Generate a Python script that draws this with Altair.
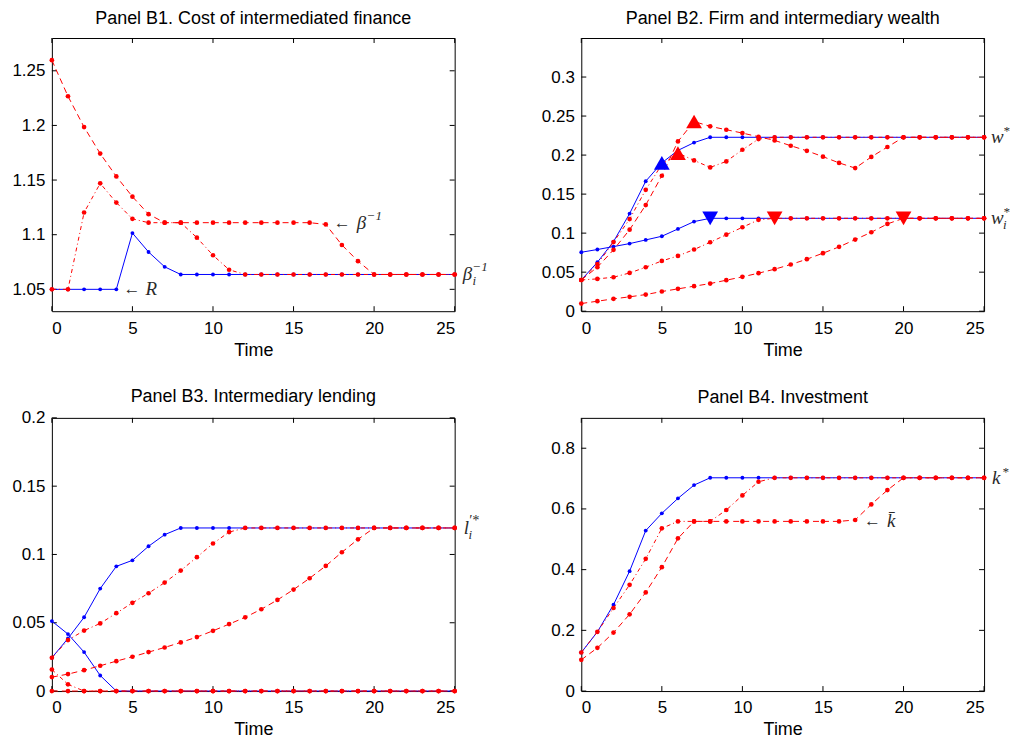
import altair as alt
import pandas as pd

# ---------------- data ----------------
TIME = [0, 1, 2, 3, 4, 5, 6, 7, 8, 9, 10, 11, 12, 13, 14, 15, 16, 17, 18, 19, 20, 21, 22, 23, 24, 25]
X_TICKS = [0, 5, 10, 15, 20, 25]

# Panel B1. Cost of intermediated finance
B1_TICKS = [1.05, 1.10, 1.15, 1.20, 1.25]
B1_BLUE = [1.050, 1.050, 1.050, 1.050, 1.050, 1.1015, 1.0842, 1.0706, 1.0636, 1.0636,
           1.0636, 1.0636, 1.0636, 1.0636, 1.0636, 1.0636, 1.0636, 1.0636, 1.0636, 1.0636,
           1.0636, 1.0636, 1.0636, 1.0636, 1.0636, 1.0636]
B1_MED = [1.050, 1.050, 1.1203, 1.1470, 1.1294, 1.1145, 1.1110, 1.1110, 1.1110, 1.0973,
          1.0812, 1.0679, 1.0636, 1.0636, 1.0636, 1.0636, 1.0636, 1.0636, 1.0636, 1.0636,
          1.0636, 1.0636, 1.0636, 1.0636, 1.0636, 1.0636]
B1_SLOW = [1.2597, 1.2267, 1.1985, 1.1742, 1.1533, 1.1348, 1.1188, 1.1110, 1.1110, 1.1110,
           1.1110, 1.1110, 1.1110, 1.1110, 1.1110, 1.1110, 1.1110, 1.1094, 1.0906, 1.0758,
           1.0636, 1.0636, 1.0636, 1.0636, 1.0636, 1.0636]

# Panel B2. Firm and intermediary wealth
B2_TICKS = [0, 0.05, 0.10, 0.15, 0.20, 0.25, 0.30]
B2_BLUE_W = [0.040, 0.0627, 0.0892, 0.125, 0.1665, 0.190, 0.206, 0.216, 0.2228, 0.2228,
             0.2228, 0.2228, 0.2228, 0.2228, 0.2228, 0.2228, 0.2228, 0.2228, 0.2228, 0.2228,
             0.2228, 0.2228, 0.2228, 0.2228, 0.2228, 0.2228]
B2_BLUE_WI = [0.0755, 0.079, 0.0828, 0.0866, 0.0913, 0.096, 0.1054, 0.1148, 0.119, 0.119,
              0.119, 0.119, 0.119, 0.119, 0.119, 0.119, 0.119, 0.119, 0.119, 0.119,
              0.119, 0.119, 0.119, 0.119, 0.119, 0.119]
B2_MED_W = [0.040, 0.0603, 0.0885, 0.118, 0.1555, 0.188, 0.2026, 0.1932, 0.1842, 0.1919,
            0.2068, 0.2205, 0.2228, 0.2228, 0.2228, 0.2228, 0.2228, 0.2228, 0.2228, 0.2228,
            0.2228, 0.2228, 0.2228, 0.2228, 0.2228, 0.2228]
B2_MED_WI = [0.040, 0.0414, 0.0435, 0.049, 0.0563, 0.0644, 0.0708, 0.079, 0.0883, 0.098,
             0.1075, 0.117, 0.119, 0.119, 0.119, 0.119, 0.119, 0.119, 0.119, 0.119,
             0.119, 0.119, 0.119, 0.119, 0.119, 0.119]
B2_SLOW_W = [0.040, 0.0564, 0.0786, 0.1044, 0.136, 0.1735, 0.2175, 0.243, 0.2368, 0.2325,
             0.2282, 0.2235, 0.2188, 0.212, 0.2055, 0.198, 0.190, 0.1833, 0.1976, 0.2104,
             0.2228, 0.2228, 0.2228, 0.2228, 0.2228, 0.2228]
B2_SLOW_WI = [0.0098, 0.0128, 0.0158, 0.0184, 0.0213, 0.0252, 0.0286, 0.032, 0.0354, 0.0397,
              0.044, 0.0487, 0.0538, 0.0598, 0.0666, 0.0743, 0.0824, 0.0918, 0.1011, 0.1118,
              0.119, 0.119, 0.119, 0.119, 0.119, 0.119]
B2_UP_T = [5, 6, 7]
B2_UP_V = [0.190, 0.2026, 0.243]
B2_DOWN_T = [8, 12, 20]
B2_DOWN_V = [0.119, 0.119, 0.119]

# Panel B3. Intermediary lending
B3_TICKS = [0, 0.05, 0.10, 0.15, 0.20]
B3_BLUE_UP = [0.0244, 0.0385, 0.054, 0.075, 0.0913, 0.0957, 0.106, 0.1145, 0.1194, 0.1194,
              0.1194, 0.1194, 0.1194, 0.1194, 0.1194, 0.1194, 0.1194, 0.1194, 0.1194, 0.1194,
              0.1194, 0.1194, 0.1194, 0.1194, 0.1194, 0.1194]
B3_BLUE_DN = [0.0512, 0.0417, 0.0285, 0.0114, 0, 0, 0, 0, 0, 0, 0, 0, 0, 0, 0, 0, 0, 0, 0, 0,
              0, 0, 0, 0, 0, 0]
B3_MED_UP = [0.0244, 0.0373, 0.0443, 0.0495, 0.057, 0.0646, 0.0716, 0.0794, 0.0882, 0.098,
             0.108, 0.1164, 0.1194, 0.1194, 0.1194, 0.1194, 0.1194, 0.1194, 0.1194, 0.1194,
             0.1194, 0.1194, 0.1194, 0.1194, 0.1194, 0.1194]
B3_MED_DN = [0.0158, 0.0049, 0, 0, 0, 0, 0, 0, 0, 0, 0, 0, 0, 0, 0, 0, 0, 0, 0, 0,
             0, 0, 0, 0, 0, 0]
B3_SLOW_UP = [0.0102, 0.0124, 0.0153, 0.0185, 0.0219, 0.0251, 0.0285, 0.0319, 0.0356, 0.0395,
              0.0441, 0.049, 0.054, 0.0599, 0.0667, 0.0743, 0.0826, 0.0916, 0.1016, 0.1111,
              0.1194, 0.1194, 0.1194, 0.1194, 0.1194, 0.1194]
B3_SLOW_DN = [0, 0, 0, 0, 0, 0, 0, 0, 0, 0, 0, 0, 0, 0, 0, 0, 0, 0, 0, 0,
              0, 0, 0, 0, 0, 0]

# Panel B4. Investment
B4_TICKS = [0, 0.2, 0.4, 0.6, 0.8]
B4_BLUE = [0.127, 0.195, 0.2845, 0.395, 0.5286, 0.5855, 0.6348, 0.6785, 0.7026, 0.7026,
           0.7026, 0.7026, 0.7026, 0.7026, 0.7026, 0.7026, 0.7026, 0.7026, 0.7026, 0.7026,
           0.7026, 0.7026, 0.7026, 0.7026, 0.7026, 0.7026]
B4_MED = [0.127, 0.195, 0.2736, 0.350, 0.4356, 0.536, 0.559, 0.559, 0.559, 0.5964,
          0.6446, 0.6895, 0.7026, 0.7026, 0.7026, 0.7026, 0.7026, 0.7026, 0.7026, 0.7026,
          0.7026, 0.7026, 0.7026, 0.7026, 0.7026, 0.7026]
B4_SLOW = [0.1029, 0.1423, 0.1926, 0.2528, 0.325, 0.408, 0.503, 0.559, 0.559, 0.559,
           0.559, 0.559, 0.559, 0.559, 0.559, 0.559, 0.559, 0.5636, 0.615, 0.662,
           0.7026, 0.7026, 0.7026, 0.7026, 0.7026, 0.7026]

# ---------------- styling ----------------
W, H = 404, 274
BLUE = "#0000ff"
RED = "#ff0000"
TXT = "#2a2a2a"
SANS = "Liberation Sans"
SERIF = "Liberation Serif"
DASH_SLOW = [6, 4]
DASH_MED = [4, 3, 1, 3]
RED_DOT = 22
BLUE_DOT = 15


def make_panel(title, ydomain, yticks, layers_fn, title_offset=10):
    X = alt.X("t:Q", scale=alt.Scale(domain=[0, 25], nice=False, zero=False),
              axis=alt.Axis(title="Time", values=X_TICKS, format="~g",
                            grid=False, ticks=False, domain=False,
                            labelFont=SANS, labelFontSize=17, labelColor="black",
                            labelPadding=9, titleFont=SANS, titleFontSize=18,
                            titleFontWeight="normal", titleColor="black", titlePadding=5))
    Y = alt.Y("v:Q", scale=alt.Scale(domain=ydomain, nice=False, zero=False),
              axis=alt.Axis(title=None, values=yticks, format="~g",
                            grid=False, ticks=False, domain=False,
                            labelFont=SANS, labelFontSize=17, labelColor="black",
                            labelPadding=7))

    def series(values, color, dash, msize):
        df = pd.DataFrame({"t": TIME, "v": values})
        base = alt.Chart(df).encode(x=X, y=Y)
        if dash:
            line = base.mark_line(color=color, strokeWidth=1, strokeDash=dash)
        else:
            line = base.mark_line(color=color, strokeWidth=1)
        pts = base.mark_circle(color=color, size=msize, opacity=1)
        return [line, pts]

    def tri(ts, vs, color, shape):
        df = pd.DataFrame({"t": ts, "v": vs})
        return alt.Chart(df).mark_point(shape=shape, filled=True, color=color,
                                        size=250, opacity=1).encode(x=X, y=Y)

    def label(t, v, text, dx=0, dy=0, size=19, italic=True):
        df = pd.DataFrame({"t": [t], "v": [v]})
        return alt.Chart(df).mark_text(
            text=text, align="left", baseline="middle", dx=dx, dy=dy,
            font=SERIF, fontSize=size, fontStyle="italic" if italic else "normal",
            color=TXT).encode(x=X, y=Y)

    ticks = [
        alt.Chart(pd.DataFrame({"t": X_TICKS})).mark_rule(color="black", strokeWidth=1)
        .encode(x=X, y=alt.value(H), y2=alt.value(H - 5)),
        alt.Chart(pd.DataFrame({"t": X_TICKS})).mark_rule(color="black", strokeWidth=1)
        .encode(x=X, y=alt.value(0), y2=alt.value(5)),
        alt.Chart(pd.DataFrame({"v": yticks})).mark_rule(color="black", strokeWidth=1)
        .encode(y=Y, x=alt.value(0), x2=alt.value(5)),
        alt.Chart(pd.DataFrame({"v": yticks})).mark_rule(color="black", strokeWidth=1)
        .encode(y=Y, x=alt.value(W), x2=alt.value(W - 5)),
    ]

    layers = ticks + layers_fn(series, tri, label)
    return alt.layer(*layers).properties(
        width=W, height=H,
        title=alt.TitleParams(title, font=SANS, fontSize=18, fontWeight="normal",
                              color="black", offset=title_offset))


def b1_layers(series, tri, label):
    L = []
    L += series(B1_BLUE, BLUE, None, BLUE_DOT)
    L += series(B1_MED, RED, DASH_MED, RED_DOT)
    L += series(B1_SLOW, RED, DASH_SLOW, RED_DOT)
    L += [
        label(4.45, 1.05, "\u2190", size=17, italic=False),
        label(4.45, 1.05, "R", dx=22),
        label(17.5, 1.111, "\u2190", size=17, italic=False),
        label(17.5, 1.111, "\u03b2", dx=23),
        label(17.5, 1.111, "\u22121", dx=33, dy=-7, size=13),
        label(25, 1.0636, "\u03b2", dx=8),
        label(25, 1.0636, "\u22121", dx=18, dy=-7, size=13),
        label(25, 1.0636, "i", dx=18, dy=7, size=13),
    ]
    return L


def b2_layers(series, tri, label):
    L = []
    L += series(B2_BLUE_W, BLUE, None, BLUE_DOT)
    L += series(B2_BLUE_WI, BLUE, None, BLUE_DOT)
    L += series(B2_MED_W, RED, DASH_MED, RED_DOT)
    L += series(B2_MED_WI, RED, DASH_MED, RED_DOT)
    L += series(B2_SLOW_W, RED, DASH_SLOW, RED_DOT)
    L += series(B2_SLOW_WI, RED, DASH_SLOW, RED_DOT)
    L += [
        tri(B2_UP_T[:1], B2_UP_V[:1], BLUE, "triangle-up"),
        tri(B2_UP_T[1:], B2_UP_V[1:], RED, "triangle-up"),
        tri(B2_DOWN_T[:1], B2_DOWN_V[:1], BLUE, "triangle-down"),
        tri(B2_DOWN_T[1:], B2_DOWN_V[1:], RED, "triangle-down"),
        label(25, 0.2228, "w", dx=7),
        label(25, 0.2228, "*", dx=19, dy=-6, size=13),
        label(25, 0.119, "w", dx=7),
        label(25, 0.119, "*", dx=19, dy=-6, size=13),
        label(25, 0.119, "i", dx=19, dy=7, size=13),
    ]
    return L


def b3_layers(series, tri, label):
    L = []
    L += series(B3_BLUE_UP, BLUE, None, BLUE_DOT)
    L += series(B3_BLUE_DN, BLUE, None, BLUE_DOT)
    L += series(B3_MED_UP, RED, DASH_MED, RED_DOT)
    L += series(B3_MED_DN, RED, DASH_MED, RED_DOT)
    L += series(B3_SLOW_UP, RED, DASH_SLOW, RED_DOT)
    L += series(B3_SLOW_DN, RED, DASH_SLOW, RED_DOT)
    L += [
        label(25, 0.1194, "l", dx=9),
        label(25, 0.1194, "\u2032*", dx=14, dy=-7, size=14),
        label(25, 0.1194, "i", dx=14, dy=7, size=13),
    ]
    return L


def b4_layers(series, tri, label):
    L = []
    L += series(B4_BLUE, BLUE, None, BLUE_DOT)
    L += series(B4_MED, RED, DASH_MED, RED_DOT)
    L += series(B4_SLOW, RED, DASH_SLOW, RED_DOT)
    L += [
        label(25, 0.7026, "k", dx=8),
        label(25, 0.7026, "*", dx=18, dy=-6, size=13),
        label(17.55, 0.559, "\u2190", size=17, italic=False),
        label(17.55, 0.559, "k\u0304", dx=23),
    ]
    return L


p1 = make_panel("Panel B1. Cost of intermediated finance", [1.03, 1.28], B1_TICKS, b1_layers)
p2 = make_panel("Panel B2. Firm and intermediary wealth", [0, 0.35], B2_TICKS, b2_layers)
p3 = make_panel("Panel B3. Intermediary lending", [0, 0.2], B3_TICKS, b3_layers,
                title_offset=3)
p4 = make_panel("Panel B4. Investment", [0, 0.9], B4_TICKS, b4_layers)

chart = alt.concat(
    p1, p2, p3, p4, columns=2,
    spacing={"row": 107, "column": 127}, bounds="flush",
).properties(
    padding={"left": 3, "top": 0, "right": 0, "bottom": 0},
    background="white",
).configure_view(
    stroke="black", strokeWidth=1,
)

chart.save("out.html", embed_options={"renderer": "svg", "actions": False})
